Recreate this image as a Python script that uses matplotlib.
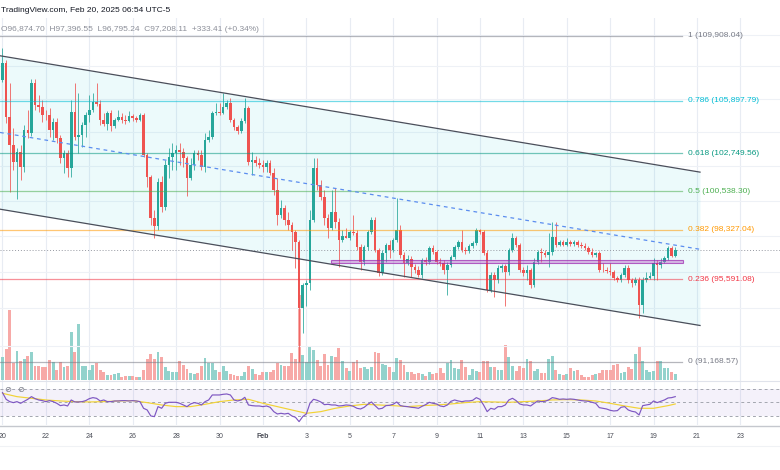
import numpy as np
import matplotlib.pyplot as plt
from matplotlib.patches import Rectangle
from matplotlib.lines import Line2D
from matplotlib.transforms import blended_transform_factory

plt.rcParams['font.family'] = ['Liberation Sans', 'DejaVu Sans']

# 4h candles, bar 0 = Jan 20 00:00 (UTC-5)
opens = [
    107173, 108227, 104924, 103245, 102246, 102829, 101955, 104144, 103964, 106987,
    105643, 105523, 105044, 105010, 104144, 104624, 103665, 102479, 102770, 101897,
    105223, 103725, 103844, 104444, 105044, 105343, 105823, 105703, 104744, 104504,
    105163, 104384, 104744, 104924, 104744, 104684, 104984, 104864, 104744, 105044,
    102654, 101373, 99015, 98562, 101082, 99638, 102072, 102537, 102770, 102945,
    102829, 102479, 101315, 102072, 102770, 102654, 101955, 103545, 103725, 105163,
    105223, 105163, 105523, 105763, 104744, 104324, 104084, 104684, 105463, 102246,
    102363, 102188, 102072, 101955, 102188, 101606, 100617, 99185, 99581, 98902,
    98619, 98223, 97657, 94027, 95279, 95389, 98902, 101897, 100908, 100210,
    99015, 98449, 99355, 98789, 97770, 97996, 97900, 98223, 98166, 97374,
    96544, 97374, 98223, 98902, 97204, 95939, 97039, 97487, 97204, 97770,
    98336, 96929, 96489, 96709, 96269, 96104, 95829, 96654, 96544, 97317,
    97094, 96544, 96489, 96104, 96379, 96819, 97374, 97657, 97204, 97149,
    97430, 97600, 98336, 98223, 97039, 95004, 95829, 95554, 96214, 96324,
    95994, 97204, 97883, 97487, 96104, 95939, 96104, 95279, 96544, 97094,
    97039, 96929, 97094, 97940, 97487, 97657, 97487, 97657, 97544, 97657,
    97487, 97430, 97317, 97094, 96929, 97039, 96104, 96080, 96049, 95994,
    95664, 95554, 95829, 96214, 95554, 95389, 95554, 94187, 95554, 95664,
    95774, 96489, 96379, 96544, 96764, 97317, 96874.70]
highs = [
    109157, 108413, 106987, 104264, 103065, 103245, 104444, 105343, 107235, 107235,
    106243, 105943, 105343, 105463, 104864, 104864, 103844, 102945, 102945, 105943,
    106987, 106367, 104624, 105223, 106243, 106367, 106987, 105943, 105163, 105283,
    105343, 104864, 105343, 105163, 105044, 105283, 105103, 104984, 105163, 105163,
    102770, 101490, 99468, 101315, 101431, 102363, 103065, 103365, 103245, 103365,
    103065, 102596, 102479, 102945, 102945, 102945, 103964, 104144, 105283, 105763,
    105763, 106367, 105943, 106061, 104864, 104444, 104864, 106061, 105583, 102829,
    102596, 102479, 102363, 102363, 102363, 101897, 101315, 100034, 99751, 99355,
    98789, 98336, 97770, 95389, 95554, 99468, 102479, 102479, 101199, 100617,
    99242, 100617, 100734, 99015, 98336, 98449, 98336, 99185, 98336, 97544,
    97487, 98336, 99072, 99072, 97317, 97204, 97600, 97770, 97883, 100152,
    98619, 97094, 96929, 96874, 96434, 96324, 96764, 96819, 97430, 97487,
    97204, 96764, 96654, 96544, 96929, 97487, 97770, 98336, 97374, 97544,
    97713, 98449, 98393, 98336, 97204, 95994, 95994, 96379, 96434, 96434,
    97317, 98166, 97996, 97600, 96269, 96379, 96214, 96764, 97204, 97317,
    97204, 98166, 98789, 98789, 97770, 97770, 97883, 97770, 97770, 97770,
    97657, 97600, 97430, 97317, 97094, 97149, 96489, 96269, 96489, 96104,
    95774, 95939, 96379, 96379, 95664, 95719, 95719, 95719, 95994, 95994,
    96764, 96654, 96764, 96874, 97430, 97430, 97396.55]
lows = [
    107049, 104564, 100501, 101781, 100094, 101199, 101664, 103665, 103785, 105343,
    105223, 104624, 104744, 103725, 103545, 103365, 102188, 101606, 101373, 101373,
    103545, 102770, 103125, 103725, 104624, 105223, 105583, 104444, 104384, 104144,
    104084, 104264, 104684, 104564, 104504, 104624, 104684, 104624, 104684, 102537,
    100792, 98619, 97883, 98336, 99355, 99468, 101315, 101781, 101781, 102072,
    101955, 100268, 101199, 101781, 102363, 101781, 101664, 103425, 103605, 105044,
    105044, 105103, 105403, 104624, 104144, 103904, 103964, 104564, 102072, 101490,
    102013, 101897, 101664, 101664, 101490, 100326, 98619, 99015, 98619, 98336,
    97204, 96214, 91168.57, 92696, 94134, 95004, 98789, 100617, 100034, 98619,
    97883, 98336, 98449, 96269, 97657, 97883, 97770, 98053, 97204, 96104,
    96379, 97204, 98110, 97094, 95774, 95829, 96544, 96764, 97094, 97657,
    96764, 95719, 96379, 95719, 95939, 95719, 95664, 96379, 96434, 96984,
    96434, 96324, 95884, 94729, 96269, 96709, 97261, 97094, 96984, 97039,
    97317, 97487, 98110, 96929, 94894, 94894, 94619, 95389, 95994, 94134,
    95829, 97094, 97374, 95994, 95774, 95554, 95114, 95169, 96434, 96544,
    96819, 96269, 96929, 97374, 97430, 97430, 97430, 97430, 97430, 97374,
    97317, 97204, 96984, 96819, 96819, 95994, 95994, 95939, 95829, 95554,
    95444, 95444, 95719, 95389, 95169, 95279, 93495, 93761, 95444, 95609,
    95554, 95554, 96214, 96489, 96654, 96800, 96795.24]
closes = [
    108227, 104924, 103245, 102246, 102829, 101955, 104144, 103964, 106987, 105643,
    105523, 105044, 105010, 104144, 104624, 103665, 102479, 102770, 101897, 105223,
    103725, 103844, 104444, 105044, 105343, 105823, 105703, 104744, 104504, 105163,
    104384, 104744, 104924, 104744, 104684, 104984, 104864, 104744, 105044, 102654,
    101373, 99015, 98562, 101082, 99638, 102072, 102537, 102770, 102945, 102829,
    102479, 101315, 102072, 102770, 102654, 101955, 103545, 103725, 105163, 105223,
    105163, 105523, 105763, 104744, 104324, 104084, 104684, 105463, 102246, 102363,
    102188, 102072, 101955, 102188, 101606, 100617, 99185, 99581, 98902, 98619,
    98223, 97657, 94027, 95279, 95389, 98902, 101897, 100908, 100210, 99015,
    98449, 99355, 98789, 97770, 97996, 97900, 98223, 98166, 97374, 96544,
    97374, 98223, 98902, 97204, 95939, 97039, 97487, 97204, 97770, 98336,
    96929, 96489, 96709, 96269, 96104, 95829, 96654, 96544, 97317, 97094,
    96544, 96489, 96104, 96379, 96819, 97374, 97657, 97204, 97149, 97430,
    97600, 98336, 98223, 97039, 95004, 95829, 95554, 96214, 96324, 95994,
    97204, 97883, 97487, 96104, 95939, 96104, 95279, 96544, 97094, 97039,
    96929, 97094, 97940, 97487, 97657, 97487, 97657, 97544, 97657, 97487,
    97430, 97317, 97094, 96929, 97039, 96104, 96080, 96049, 95994, 95664,
    95554, 95829, 96214, 95554, 95389, 95554, 94187, 95554, 95664, 95774,
    96489, 96379, 96544, 96764, 97317, 96874.70, 97208.11]
volumes = [
    22.7, 31, 70, 16.6, 29, 19, 21, 24, 27.6, 14,
    14, 12.6, 12.6, 20, 18, 10, 17.6, 13, 13.6, 48,
    28, 56, 13.6, 13.6, 10, 15, 16.6, 10, 7.6, 5.3,
    5.3, 6, 6.6, 3.3, 4, 3.6, 4.3, 3.3, 3.3, 10,
    21, 26, 21.3, 28.3, 22.6, 13.3, 9.3, 7.6, 7.6, 18.6,
    15.3, 11, 6.6, 6, 6.6, 14.3, 22, 16.6, 16.6, 10,
    7.6, 14.3, 8.6, 6, 4.6, 4.3, 4.3, 8.3, 14.3, 11,
    6, 5.3, 8, 8, 8, 10, 16.6, 15.3, 14.3, 14.3,
    27.3, 21, 85, 25, 18, 34, 30, 19.6, 14, 26,
    15, 24, 22.6, 32, 19.3, 12, 9.3, 18, 20, 12,
    13.3, 11, 13, 27.6, 27, 16, 15, 13.3, 8, 22,
    20, 15.3, 7.6, 7.6, 6, 7, 6, 4, 7.6, 6,
    7, 11.6, 7, 16.6, 20, 12, 11.3, 20, 12.6, 5,
    11.3, 8.6, 7.6, 19.3, 19.3, 12.6, 12.6, 10.3, 10, 35.3,
    23.3, 14.3, 8.6, 14.3, 12, 21, 18.6, 9.3, 11.3, 7.3,
    7.3, 21, 24.3, 10, 6, 5.3, 6, 12, 8.6, 10,
    5.3, 3.3, 3.3, 5, 6, 7, 10, 10, 10.3, 15.3,
    16, 6.6, 7.6, 13.3, 11.3, 26, 33.3, 19.3, 10, 7.6,
    8.6, 18.6, 18.6, 12, 12, 7.6, 6]
rsi = [
    64.5, 54.5, 51, 49.5, 51, 48.5, 51.5, 54.5, 58.5, 55.5,
    53.5, 52.5, 51, 52.5, 51, 48.5, 45, 46, 44.5, 53.5,
    50.5, 50.5, 51, 52.5, 55.5, 57, 56, 52, 53.5, 51,
    51, 52, 52, 52.5, 52.5, 52, 52.5, 52, 51, 41,
    38.5, 29.5, 28.5, 43.5, 41, 48.5, 50, 50, 50, 48.5,
    46, 43.5, 47.5, 49.5, 48.5, 46, 51, 53.5, 61, 61,
    61, 62, 62.5, 61, 53.5, 52, 53.5, 57.5, 46, 45,
    44.5, 44.5, 43.5, 44.5, 42.5, 36, 32.5, 33.5, 32.5, 33.5,
    29.5, 27.5, 21, 28.5, 32.5, 48.5, 54.5, 53, 50.5, 46.5,
    47, 46, 46, 44.5, 45, 46, 45.5, 44, 41, 40,
    42.5, 47, 50.5, 45, 40, 41, 45, 45.5, 47, 50.5,
    45, 44, 43.5, 42.5, 42, 41, 44, 46.5, 50, 48.5,
    47.5, 44.5, 43.5, 46, 51.5, 53.5, 52, 51, 52, 52,
    53, 57, 54.5, 46, 36, 41, 39.5, 43.5, 43.5, 46,
    53.5, 56, 52.5, 47.5, 46, 46, 44.5, 48.5, 52, 51,
    51.5, 53.5, 57, 56, 54.5, 55, 54.5, 55, 54.5, 53.5,
    52.5, 52, 51.5, 50, 48.5, 42, 41, 40, 38, 37,
    37.5, 42.5, 43.5, 38.5, 36.5, 35.5, 31, 45, 46, 47,
    52, 49.5, 51.5, 53.5, 56.5, 57, 58.5]
# RSI moving average, read every 4th bar
rsi_ma_bars = list(range(0, 185, 4)) + [186]
rsi_ma = [63.5, 58.5, 56, 53.5, 52, 51, 50.5, 51, 52, 52.5, 49.5, 46,
          43.5, 43.5, 47, 51, 53.5, 54.5, 48.5, 43.5, 38.5, 33.5, 36, 41,
          44.5, 47, 46, 45, 43.5, 45, 46, 47.5, 49.5, 51, 50.5, 50,
          51, 52, 53.5, 54, 53.5, 52, 48.5, 44.5, 41, 41, 45, 47.5]

# Fibonacci retracement
fib_levels = [1, 0.786, 0.618, 0.5, 0.382, 0.236, 0]
fib_prices = [109908.04, 105897.79, 102749.56, 100538.30, 98327.04, 95591.08, 91168.57]
fib_colors = ['#787b86', '#00bcd4', '#089981', '#4caf50', '#ff9800', '#f23645', '#787b86']
fib_end = 187.9

# parallel channel (bar index, price)
chan_x = [-0.69, 192.85]
chan_upper = [108667, 101647]
chan_lower = [99508, 93084]
chan_mid = [103988, 97244]

# support zone
zone_x = [90.8, 188.05]
zone_price = [96472, 96654]

last_price = 97208.11
tick_labels = ['20', '22', '24', '26', '28', '30', 'Feb', '3', '5', '7', '9',
               '11', '13', '15', '17', '19', '21', '23']

W, H = 780, 470
fig = plt.figure(figsize=(W / 100, H / 100), dpi=100)


def fy(py):
    return 1 - py / H


ax_vol = fig.add_axes([0, fy(380), 1, 362 / H])
ax = fig.add_axes([0, fy(380), 1, 362 / H], sharex=ax_vol)
ax_rsi = fig.add_axes([0, fy(425), 1, 45 / H], sharex=ax_vol)
ax.patch.set_visible(False)

bars = np.arange(len(closes))
o, h, l, c = map(np.array, (opens, highs, lows, closes))
up = c >= o
ax_vol.set_xlim(-0.69, 214.96)

# grid
tick_pos = [12 * i for i in range(len(tick_labels))]
for t in tick_pos:
    ax_vol.axvline(t, color='#e8ecf3', lw=0.8, zorder=0)
    ax_rsi.axvline(t, color='#e8ecf3', lw=0.8, zorder=0)

# volume
vol_colors = np.where(up, '#92d2cc', '#f7a9a7')
ax_vol.bar(bars, volumes, width=0.8, color=vol_colors, lw=0, zorder=2)
ax_vol.set_ylim(0, 362)

# price pane
ax.set_yscale('log')
ax.set_ylim(90216, 111048)
for p in range(92000, 111000, 2000):
    ax.axhline(p, color='#eef1f6', lw=0.8, zorder=0)

ax.fill_between(chan_x, chan_lower, chan_upper, color='#00bcd4', alpha=0.075, lw=0, zorder=1)

colors = np.where(up, '#26a69a', '#ef5350')
ax.vlines(bars, l, h, colors=colors, lw=0.7, alpha=0.8, zorder=3)
body = np.maximum(np.abs(c - o), 35)
ax.bar(bars, body, bottom=np.minimum(o, c), width=0.72, color=colors, lw=0, zorder=4)

ax.axhline(last_price, color='#9598a1', lw=0.7, ls=(0, (1, 2)), zorder=2)

for lvl, p, col in zip(fib_levels, fib_prices, fib_colors):
    ax.plot([-0.69, fib_end], [p, p], color=col, lw=0.9, alpha=0.55, zorder=5)
    ax.text(fib_end + 1.6, p, f'{lvl:g} ({p:,.2f})', color=col, fontsize=6,
            va='center', ha='left', zorder=6)

ax.plot(chan_x, chan_upper, color='#4a4e5a', lw=0.9, zorder=5)
ax.plot(chan_x, chan_lower, color='#4a4e5a', lw=0.9, zorder=5)
ax.plot(chan_x, chan_mid, color='#5b8def', lw=0.9, ls=(0, (3, 3)), zorder=5)

ax.add_patch(Rectangle((zone_x[0], zone_price[0]), zone_x[1] - zone_x[0],
                       zone_price[1] - zone_price[0],
                       facecolor=(0.73, 0.41, 0.78, 0.45),
                       edgecolor=(0.61, 0.15, 0.69, 0.7), lw=0.8, zorder=5))

# RSI pane
ax_rsi.set_ylim(15.95, 83.45)
ax_rsi.axhspan(30, 70, color='#7e57c2', alpha=0.08, lw=0)
for lv in (70, 50, 30):
    ax_rsi.axhline(lv, color='#a3a6af', lw=0.7, ls=(0, (3, 3)))
ax_rsi.plot(bars, rsi, color='#7e57c2', lw=0.85, zorder=3)
ax_rsi.plot(rsi_ma_bars, rsi_ma, color='#f2d335', lw=0.85, zorder=2)
for xi in (8, 21):
    fig.text(xi / W, fy(391), '\u2298', fontsize=6, color='#787b86',
             ha='center', va='center')

for a in (ax_vol, ax, ax_rsi):
    for s in a.spines.values():
        s.set_visible(False)
    a.tick_params(which='both', left=False, right=False, bottom=False, top=False,
                  labelleft=False, labelbottom=False)

# separators
fig.add_artist(Line2D([0, 1], [fy(380.5)] * 2, color='#e0e3eb', lw=0.8))
fig.add_artist(Line2D([0, 1], [fy(425.5)] * 2, color='#c5c8ce', lw=1.0))
fig.add_artist(Line2D([0, 1], [fy(445.5)] * 2, color='#f0f2f5', lw=0.8))

# time axis
tr = blended_transform_factory(ax_rsi.transData, fig.transFigure)
for t, lab in zip(tick_pos, tick_labels):
    ax_rsi.text(t, fy(436), lab, transform=tr, ha='center', va='center',
                fontsize=5, color='#4a4d57',
                fontweight='bold' if lab == 'Feb' else 'normal', clip_on=False)

# header
fig.text(1 / W, fy(10.5), 'TradingView.com, Feb 20, 2025 06:54 UTC-5',
         fontsize=6, color='#131722', va='center', ha='left')
fig.text(1 / W, fy(29.5),
         'O96,874.70  H97,396.55  L96,795.24  C97,208.11  +333.41 (+0.34%)',
         fontsize=6, color='#8c8f99', va='center', ha='left')

fig.savefig('out.png', dpi=100)
